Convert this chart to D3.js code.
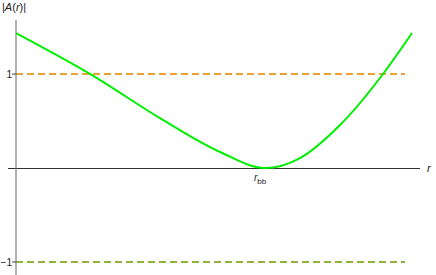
<!DOCTYPE html>
<html>
<head>
<meta charset="utf-8">
<script src="https://cdn.jsdelivr.net/npm/d3@7"></script>
<style>
  body { margin: 0; background: #fff; }
  svg text { font-family: "Liberation Sans", Arial, sans-serif; fill: #222; }
</style>
</head>
<body>
<svg width="436" height="275"></svg>
<script>
// valori (r in unita' arbitrarie)
var rVals = [0, 0.768, 1.455, 2.061, 2.515, 2.869, 3.273, 3.707, 4.0];
var aVals = [1.436, 0.989, 0.53, 0.17, 0.0, 0.106, 0.457, 1.0, 1.436];
var levels = [1, -1];
var levelColors = ["#e9a12f", "#8fb33b"];
var yTicks = [1, -1];
var yTickLabels = ["1", "\u22121"];
var rBB = 2.465;

var svg = d3.select("svg");

var x = d3.scaleLinear().domain([0, 4]).range([16, 412]);
var y = d3.scaleLinear().domain([0, 1]).range([168, 74]);

var data = rVals.map(function(r, i) { return { r: r, a: aVals[i] }; });

// linee tratteggiate a +1 e -1
levels.forEach(function(v, i) {
  svg.append("line")
    .attr("x1", x(0)).attr("x2", x(3.93))
    .attr("y1", y(v)).attr("y2", y(v))
    .attr("stroke", levelColors[i])
    .attr("stroke-width", 2)
    .attr("stroke-dasharray", "7,4");
});

// asse x
svg.append("line")
  .attr("x1", 8).attr("x2", 420)
  .attr("y1", y(0) + 0.5).attr("y2", y(0) + 0.5)
  .attr("stroke", "#333").attr("stroke-width", 1);

// asse y
svg.append("line")
  .attr("x1", x(0)).attr("x2", x(0))
  .attr("y1", 20).attr("y2", 275)
  .attr("stroke", "#666").attr("stroke-width", 1);

// tick asse y
yTicks.forEach(function(v, i) {
  svg.append("line")
    .attr("x1", x(0) - 4).attr("x2", x(0))
    .attr("y1", y(v)).attr("y2", y(v))
    .attr("stroke", "#444");
  svg.append("text")
    .attr("x", x(0) - 4).attr("y", y(v))
    .attr("dy", "0.35em")
    .attr("text-anchor", "end")
    .style("font-size", "10px")
    .text(yTickLabels[i]);
});

// curva |A(r)|
svg.append("path")
  .datum(data)
  .attr("fill", "none")
  .attr("stroke", "#00ee00")
  .attr("stroke-width", 2)
  .attr("d", d3.line()
    .x(function(d) { return x(d.r); })
    .y(function(d) { return y(d.a); })
    .curve(d3.curveMonotoneX));

// etichetta r_bb
var tb = svg.append("text")
  .attr("x", x(rBB)).attr("y", 181)
  .attr("text-anchor", "middle")
  .style("font-size", "10px");
tb.append("tspan").style("font-style", "italic").text("r");
tb.append("tspan").attr("dy", 3).style("font-size", "8px").text("bb");

// titoli assi
svg.append("text")
  .attr("x", 427).attr("y", y(0))
  .attr("dy", "0.35em")
  .style("font-size", "11px")
  .style("font-style", "italic")
  .text("r");

var ty = svg.append("text")
  .attr("x", 2).attr("y", 11)
  .style("font-size", "11px");
ty.append("tspan").text("|");
ty.append("tspan").style("font-style", "italic").text("A");
ty.append("tspan").text("(");
ty.append("tspan").style("font-style", "italic").text("r");
ty.append("tspan").text(")|");
</script>
</body>
</html>
